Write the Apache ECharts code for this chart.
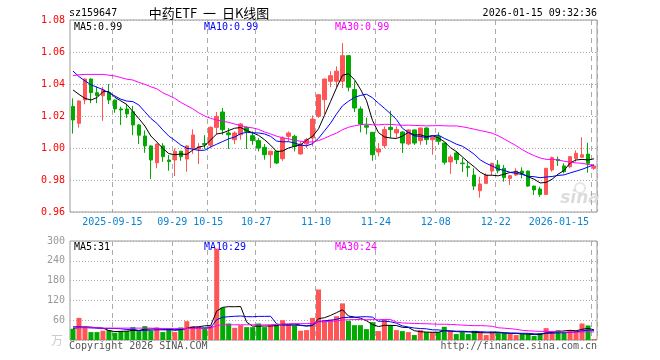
<!DOCTYPE html>
<html><head><meta charset="utf-8">
<script src="https://cdn.jsdelivr.net/npm/echarts@6/dist/echarts.min.js"></script>
<style>html,body{margin:0;padding:0;background:#fff}#c{width:660px;height:360px}</style>
</head><body><div id="c"></div>
<script>
const dates = ['2025-09-04','2025-09-05','2025-09-08','2025-09-09','2025-09-10','2025-09-11','2025-09-12',
'2025-09-15','2025-09-16','2025-09-17','2025-09-18','2025-09-19','2025-09-22','2025-09-23','2025-09-24','2025-09-25','2025-09-26',
'2025-09-29','2025-09-30','2025-10-09','2025-10-10','2025-10-13','2025-10-14','2025-10-15','2025-10-16','2025-10-17',
'2025-10-20','2025-10-21','2025-10-22','2025-10-23','2025-10-24','2025-10-27','2025-10-28','2025-10-29','2025-10-30','2025-10-31',
'2025-11-03','2025-11-04','2025-11-05','2025-11-06','2025-11-07','2025-11-10','2025-11-11','2025-11-12','2025-11-13','2025-11-14',
'2025-11-17','2025-11-18','2025-11-19','2025-11-20','2025-11-21','2025-11-24','2025-11-25','2025-11-26','2025-11-27','2025-11-28',
'2025-12-01','2025-12-02','2025-12-03','2025-12-04','2025-12-05','2025-12-08','2025-12-09','2025-12-10','2025-12-11','2025-12-12',
'2025-12-15','2025-12-16','2025-12-17','2025-12-18','2025-12-19','2025-12-22','2025-12-23','2025-12-24','2025-12-25','2025-12-26',
'2025-12-29','2025-12-30','2025-12-31','2026-01-05','2026-01-06','2026-01-07','2026-01-08','2026-01-09','2026-01-12','2026-01-13',
'2026-01-14','2026-01-15'];
const opens = [1.026,1.0154,1.030,1.0431,1.0346,1.0327,1.0346,1.030,1.0244,1.0244,1.0227,1.0144,1.0075,1.0013,0.9908,1.0013,0.9925,0.9925,0.998,0.9931,
0.9998,0.9994,1.0028,1.0017,1.0129,1.0225,1.0094,1.0052,1.0083,1.0129,1.0077,1.0046,1.0004,0.9958,0.998,0.9933,1.0073,1.0073,0.9963,1.0025,
1.0063,1.0198,1.0302,1.0417,1.0417,1.0417,1.0577,1.0365,1.0244,1.014,1.0098,0.9975,1.0015,1.0129,1.0094,1.010,1.0025,1.0113,1.0046,1.0125,
1.0052,1.0073,1.0031,0.9913,0.9969,0.9906,0.9885,0.9831,0.9733,0.9779,0.9856,0.9894,0.9873,0.981,0.9831,0.9856,0.9856,0.9762,0.9744,0.971,
0.9863,0.9929,0.9888,0.9883,0.9935,0.9942,0.9962,0.9873];
const closes = [1.0175,1.0294,1.0431,1.0346,1.0327,1.0363,1.030,1.0244,1.0238,1.0213,1.0144,1.008,1.0013,0.9925,1.0025,0.9946,0.9915,0.998,0.9946,1.0013,
1.0081,1.0008,1.0022,1.0129,1.0198,1.0114,1.0083,1.0094,1.015,1.0104,1.0046,1.000,0.9958,0.998,0.9906,1.0063,1.0094,1.001,1.0025,1.0052,
1.0181,1.0333,1.0431,1.0452,1.048,1.0577,1.038,1.025,1.015,1.013,0.9958,0.9994,1.0115,1.0115,1.0115,1.0031,1.0113,1.0031,1.0125,1.0052,
1.0067,1.0042,0.9911,0.9944,0.9927,0.9902,0.9877,0.9762,0.9775,0.9831,0.9904,0.9858,0.9815,0.9827,0.9856,0.9842,0.9762,0.9738,0.971,0.9873,
0.994,0.9921,0.9852,0.9946,0.9967,0.9958,0.9904,0.9888];
const lows = [1.009,1.0127,1.0273,1.028,1.028,1.017,1.0275,1.022,1.0144,1.0188,1.008,1.0025,0.997,0.9806,0.9873,0.9914,0.9858,0.9825,0.992,0.9852,
0.9963,0.990,0.9994,0.9999,1.0083,1.0083,0.9994,1.0025,1.0052,0.9994,1.002,0.9979,0.9927,0.9875,0.990,0.992,1.0042,0.9979,0.9958,1.000,
1.001,1.0188,1.0213,1.038,1.038,1.0375,1.0354,1.0225,1.0098,1.0085,0.992,0.9948,0.9999,1.0063,1.0063,0.9969,1.0017,1.002,1.002,1.002,
0.9958,1.002,0.9896,0.9838,0.990,0.985,0.982,0.9737,0.969,0.9775,0.9831,0.9842,0.979,0.9769,0.9825,0.981,0.9758,0.9706,0.9696,0.9706,
0.9852,0.9888,0.9842,0.9873,0.9915,0.9942,0.9846,0.9863];
const highs = [1.031,1.0298,1.0435,1.0435,1.0383,1.0383,1.040,1.0302,1.0258,1.0275,1.0263,1.015,1.011,1.0015,1.0027,1.003,0.9956,0.9998,0.9982,1.0015,
1.0117,1.003,1.008,1.0135,1.0225,1.025,1.0125,1.0104,1.0156,1.0135,1.0104,1.0063,1.0025,0.9982,0.9983,1.0073,1.0104,1.0083,1.0042,1.0063,
1.0204,1.0335,1.0433,1.048,1.051,1.0656,1.058,1.0417,1.026,1.019,1.010,1.0031,1.0135,1.0233,1.0135,1.0104,1.0115,1.0115,1.0127,1.0129,
1.0073,1.0098,1.0033,0.9958,0.998,0.9938,0.9917,0.9873,0.982,0.9842,0.9908,0.9925,0.9894,0.9831,0.9873,0.9879,0.9858,0.9764,0.9758,0.9875,
0.9946,0.9946,0.9904,0.995,0.9985,1.0067,1.0033,0.9894];
const volumes = [34,67,37,24,24,28,30,22,27,27,39,30,42,28,38,24,33,24,38,57,
42,40,38,42,277,98,50,37,45,39,39,50,39,45,45,60,48,45,28,30,
67,153,60,62,72,111,58,45,45,33,54,27,63,45,30,27,24,15,30,24,
24,24,40,27,18,24,18,28,24,15,25,21,21,18,15,18,18,12,21,36,
27,30,24,30,28,50,44,3];
// MA values before a full averaging window exists
const ma5Head = [1.0363,1.0335,1.031,1.030];
const ma10Head = [1.0481,1.0446,1.042,1.0395,1.038,1.0365,1.0345,1.0325,1.0305];
const ma30Head = [1.0452,1.0458,1.046,1.046,1.046,1.046,1.0455,1.045,1.044,1.043,1.0425,1.041,1.0398,1.0383,1.037,1.0345,1.0328,1.031,1.0285,1.0265,
1.0245,1.022,1.020,1.0185,1.0175,1.0168,1.016,1.015,1.014];
const vma5Head = [35,38,40,39];
const vma10Head = [40,40,38,37,36,35,35,35,34];
const vma30Head = [37,37,37,37,37,36,36,36,36,36,36,36,36,36,35,35,35,35,35,35,35,35,35,36,44,46,46,46,46];
const xLabels = {7:'2025-09-15',17:'09-29',23:'10-15',31:'10-27',41:'11-10',51:'11-24',61:'12-08',71:'12-22',87:'2026-01-15'};
const priceTicks = [0.96,1.08,0.02];
const volTicks = [0,300,60];
const priceLegend = ['MA5:0.99','MA10:0.99','MA30:0.99'];
const volLegend = ['MA5:31','MA10:29','MA30:24'];

function movingAvg(vals, n, head){
  return vals.map((v,i)=>{
    if(i < n-1) return head[i];
    let s=0; for(let k=i-n+1;k<=i;k++) s+=vals[k];
    return s/n;
  });
}
const UP='#ff5555', DOWN='#00aa00';
const MONO='"DejaVu Sans Mono", monospace';
const markIdx = Object.keys(xLabels).map(Number);
const kData = dates.map((d,i)=>[opens[i],closes[i],lows[i],highs[i]]);
const volData = volumes.map((v,i)=>({value:v,itemStyle:{color: closes[i]>=opens[i]?UP:DOWN}}));
const gridCommon = {show:true, borderColor:'#999', borderWidth:1, backgroundColor:'transparent'};
const vSplit = {show:true, interval:(i)=>markIdx.includes(i), lineStyle:{color:'#aaa', type:[5,4], width:1}};
const hSplit = {show:true, lineStyle:{color:'#aaa', type:[1,2], width:1}};
function line(name, data, color, xi){
  return {type:'line', name, data, xAxisIndex:xi, yAxisIndex:xi, showSymbol:false, symbol:'none', z:5,
    lineStyle:{color, width:1}, itemStyle:{color}, silent:true};
}
function txt(text, x, y, fill, align, font){
  return {type:'text', x, y, silent:true, style:{text, fill, textAlign:align||'left', textVerticalAlign:'middle', font: font || ('10px '+MONO)}};
}
const chart = echarts.init(document.getElementById('c'), null, {renderer:'canvas'});
chart.setOption({
  animation:false,
  backgroundColor:'#fff',
  grid:[Object.assign({left:70, top:20, width:527, height:192}, gridCommon),
        Object.assign({left:70, top:241, width:527, height:99}, gridCommon)],
  xAxis:[
    {type:'category', gridIndex:0, data:dates, boundaryGap:true,
     axisLine:{show:false}, axisTick:{show:false},
     axisLabel:{show:true, interval:(i)=>markIdx.includes(i), formatter:(v,i)=>xLabels[i]||'', color:'#0b84d0',
       fontFamily:MONO, fontSize:10, margin:5, padding:[0,5,0,0], alignMaxLabel:'right'},
     splitLine:vSplit},
    {type:'category', gridIndex:1, data:dates, boundaryGap:true,
     axisLine:{show:false}, axisTick:{show:false}, axisLabel:{show:false}, splitLine:vSplit}
  ],
  yAxis:[
    {type:'value', gridIndex:0, min:priceTicks[0], max:priceTicks[1], interval:priceTicks[2], scale:true,
     axisLine:{show:false}, axisTick:{show:false},
     axisLabel:{color:'#f00', fontFamily:MONO, fontSize:10, margin:5, formatter:(v)=>v.toFixed(2)},
     splitLine:hSplit},
    {type:'value', gridIndex:1, min:volTicks[0], max:volTicks[1], interval:volTicks[2],
     axisLine:{show:false}, axisTick:{show:false},
     axisLabel:{color:'#999', fontFamily:MONO, fontSize:10, margin:5, formatter:(v)=>v===0?'':String(v)},
     splitLine:hSplit}
  ],
  series:[
    {type:'candlestick', xAxisIndex:0, yAxisIndex:0, data:kData, barWidth:4, z:3,
     itemStyle:{color:UP, color0:DOWN, borderColor:UP, borderColor0:DOWN, borderWidth:1}},
    line('MA5', movingAvg(closes,5,ma5Head), '#000000', 0),
    line('MA10', movingAvg(closes,10,ma10Head), '#0000ff', 0),
    line('MA30', movingAvg(closes,30,ma30Head), '#ff00ff', 0),
    {type:'bar', xAxisIndex:1, yAxisIndex:1, data:volData, barWidth:5, z:3},
    line('VMA5', movingAvg(volumes,5,vma5Head), '#000000', 1),
    line('VMA10', movingAvg(volumes,10,vma10Head), '#0000ff', 1),
    line('VMA30', movingAvg(volumes,30,vma30Head), '#ff00ff', 1)
  ],
  graphic:[
    txt('sz159647', 69, 13, '#000'),
    txt('中药ETF  一  日K线图', 209, 13, '#000', 'center', '13px "Noto Sans CJK SC"'),
    txt('2026-01-15 09:32:36', 597, 13, '#000', 'right'),
    txt(priceLegend[0], 74, 27, '#000'),
    txt(priceLegend[1], 204, 27, '#0000ff'),
    txt(priceLegend[2], 335, 27, '#ff00ff'),
    txt(volLegend[0], 74, 247, '#000'),
    txt(volLegend[1], 204, 247, '#0000ff'),
    txt(volLegend[2], 335, 247, '#ff00ff'),
    txt('Copyright 2026 SINA.COM', 69, 346, '#555'),
    txt('http://finance.sina.com.cn', 597, 346, '#555', 'right'),
    txt('万', 57, 340, '#ccc', 'center', '12px "Noto Sans CJK SC"'),
    {type:'circle', shape:{cx:580, cy:188, r:5}, silent:true, style:{fill:'none', stroke:'#e6e6e6', lineWidth:2}},
    txt('sina', 580, 199, '#dcdcdc', 'center', 'italic bold 17px "DejaVu Sans"')
  ]
});
</script></body></html>
